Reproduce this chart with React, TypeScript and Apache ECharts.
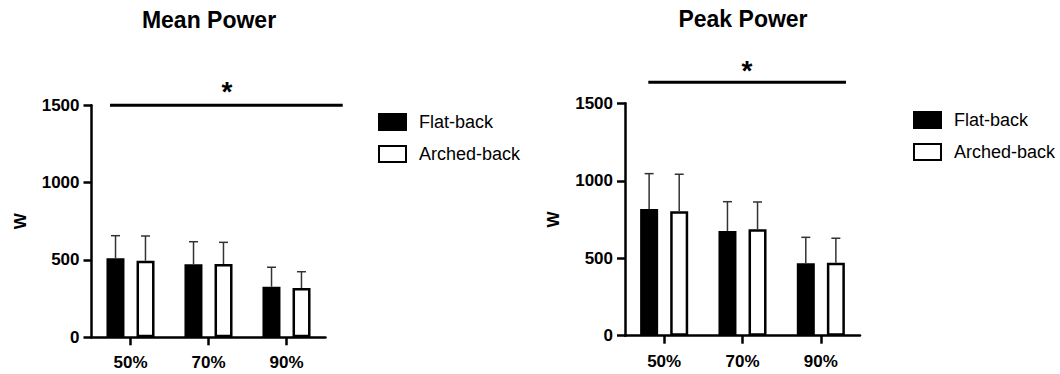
import React, { useEffect, useRef } from "react";
import * as echarts from "echarts";

const categories = ["50%", "70%", "90%"];
const seriesNames = ["Flat-back", "Arched-back"];
const meanFlat = [511, 472, 327];
const meanFlatSD = [146, 146, 126];
const meanArched = [495, 474, 319];
const meanArchedSD = [160, 140, 105];
const peakFlat = [818, 676, 467];
const peakFlatSD = [228, 189, 168];
const peakArched = [803, 687, 471];
const peakArchedSD = [239, 176, 158];
const yTicks = [0, 500, 1000, 1500];

const FONT = "'Liberation Sans', Arial, Helvetica, sans-serif";

function errSeries(name: string, gridIdx: number, vals: number[], sds: number[], sign: number) {
  return {
    type: "custom",
    name,
    xAxisIndex: gridIdx,
    yAxisIndex: gridIdx,
    z: 5,
    encode: { x: 0, y: 1 },
    data: vals.map((v, i) => [i, v, sds[i]]),
    renderItem: (params: any, api: any) => {
      const x = api.value(0);
      const m = api.value(1);
      const sd = api.value(2);
      const base = api.coord([x, m]);
      const top = api.coord([x, m + sd]);
      const band = api.size([1, 0])[0];
      const cx = base[0] + sign * band * 0.192;
      const st = { stroke: "#333", lineWidth: 1.5 };
      return {
        type: "group",
        children: [
          { type: "line", shape: { x1: cx, y1: base[1], x2: cx, y2: top[1] }, style: st },
          { type: "line", shape: { x1: cx - 4.5, y1: top[1], x2: cx + 4.5, y2: top[1] }, style: st },
        ],
      };
    },
  };
}

function barSeries(name: string, gridIdx: number, vals: number[], filled: boolean) {
  return {
    type: "bar",
    name,
    xAxisIndex: gridIdx,
    yAxisIndex: gridIdx,
    barWidth: 18,
    barGap: "67%",
    data: vals,
    itemStyle: filled
      ? { color: "#000", borderColor: "#000", borderWidth: 1.5 }
      : { color: "#fff", borderColor: "#000", borderWidth: 2.5 },
  };
}

export default function App() {
  const ref = useRef<HTMLDivElement>(null);
  useEffect(() => {
    if (!ref.current) return;
    const chart = echarts.init(ref.current, undefined, { renderer: "svg" });
    const axisLine = { show: true, lineStyle: { color: "#000", width: 2.5 } };
    const mkX = (gi: number) => ({
      type: "category",
      gridIndex: gi,
      data: categories,
      axisLine,
      axisTick: { show: true, alignWithLabel: true, length: 8, lineStyle: { color: "#000", width: 2.5 } },
      axisLabel: { fontFamily: FONT, fontWeight: "bold", fontSize: 17, color: "#000", margin: 17 },
    });
    const mkY = (gi: number) => ({
      type: "value",
      gridIndex: gi,
      min: yTicks[0],
      max: yTicks[yTicks.length - 1],
      interval: 500,
      name: "W",
      nameLocation: "middle",
      nameGap: 63,
      nameTextStyle: { fontFamily: FONT, fontWeight: "bold", fontSize: 17, color: "#000" },
      axisLine,
      axisTick: { show: true, length: 8, lineStyle: { color: "#000", width: 2.5 } },
      axisLabel: {
        fontFamily: FONT,
        fontWeight: "bold",
        fontSize: 17,
        color: "#000",
        margin: 12,
        formatter: (v: number) => String(v),
      },
      splitLine: { show: false },
    });
    const legendBase = {
      orient: "vertical",
      icon: "rect",
      itemWidth: 27,
      itemHeight: 16,
      itemGap: 14,
      data: seriesNames,
      textStyle: { fontFamily: FONT, fontSize: 18, color: "#000", padding: [0, 0, 0, 8] },
      selectedMode: false,
    };
    const titleStyle = { fontFamily: FONT, fontWeight: "bold", fontSize: 23, color: "#000" };
    chart.setOption({
      animation: false,
      backgroundColor: "#fff",
      title: [
        { text: "Mean Power", left: 209, top: 8, textAlign: "center", padding: 0, textStyle: titleStyle },
        { text: "Peak Power", left: 743, top: 7, textAlign: "center", padding: 0, textStyle: titleStyle },
      ],
      legend: [
        { ...legendBase, left: 373, top: 108 },
        { ...legendBase, left: 908, top: 106 },
      ],
      grid: [
        { left: 91.5, top: 105.3, width: 234, height: 232 },
        { left: 625, top: 103.3, width: 235, height: 232.4 },
      ],
      xAxis: [mkX(0), mkX(1)],
      yAxis: [mkY(0), mkY(1)],
      series: [
        barSeries(seriesNames[0], 0, meanFlat, true),
        barSeries(seriesNames[1], 0, meanArched, false),
        barSeries(seriesNames[0], 1, peakFlat, true),
        barSeries(seriesNames[1], 1, peakArched, false),
        errSeries("errMeanFlat", 0, meanFlat, meanFlatSD, -1),
        errSeries("errMeanArched", 0, meanArched, meanArchedSD, 1),
        errSeries("errPeakFlat", 1, peakFlat, peakFlatSD, -1),
        errSeries("errPeakArched", 1, peakArched, peakArchedSD, 1),
      ],
      graphic: [
        { type: "line", shape: { x1: 110, y1: 105.3, x2: 342.7, y2: 105.3 }, style: { stroke: "#000", lineWidth: 3 } },
        { type: "text", x: 227, y: 91, style: { text: "*", fontFamily: FONT, fontWeight: "bold", fontSize: 28, fill: "#000", textAlign: "center", textVerticalAlign: "middle" } },
        { type: "line", shape: { x1: 648.3, y1: 82.3, x2: 846, y2: 82.3 }, style: { stroke: "#000", lineWidth: 3 } },
        { type: "text", x: 747, y: 70, style: { text: "*", fontFamily: FONT, fontWeight: "bold", fontSize: 28, fill: "#000", textAlign: "center", textVerticalAlign: "middle" } },
      ],
    });
    return () => chart.dispose();
  }, []);
  return <div ref={ref} style={{ position: "fixed", left: 0, top: 0, width: 1060, height: 374 }} />;
}
